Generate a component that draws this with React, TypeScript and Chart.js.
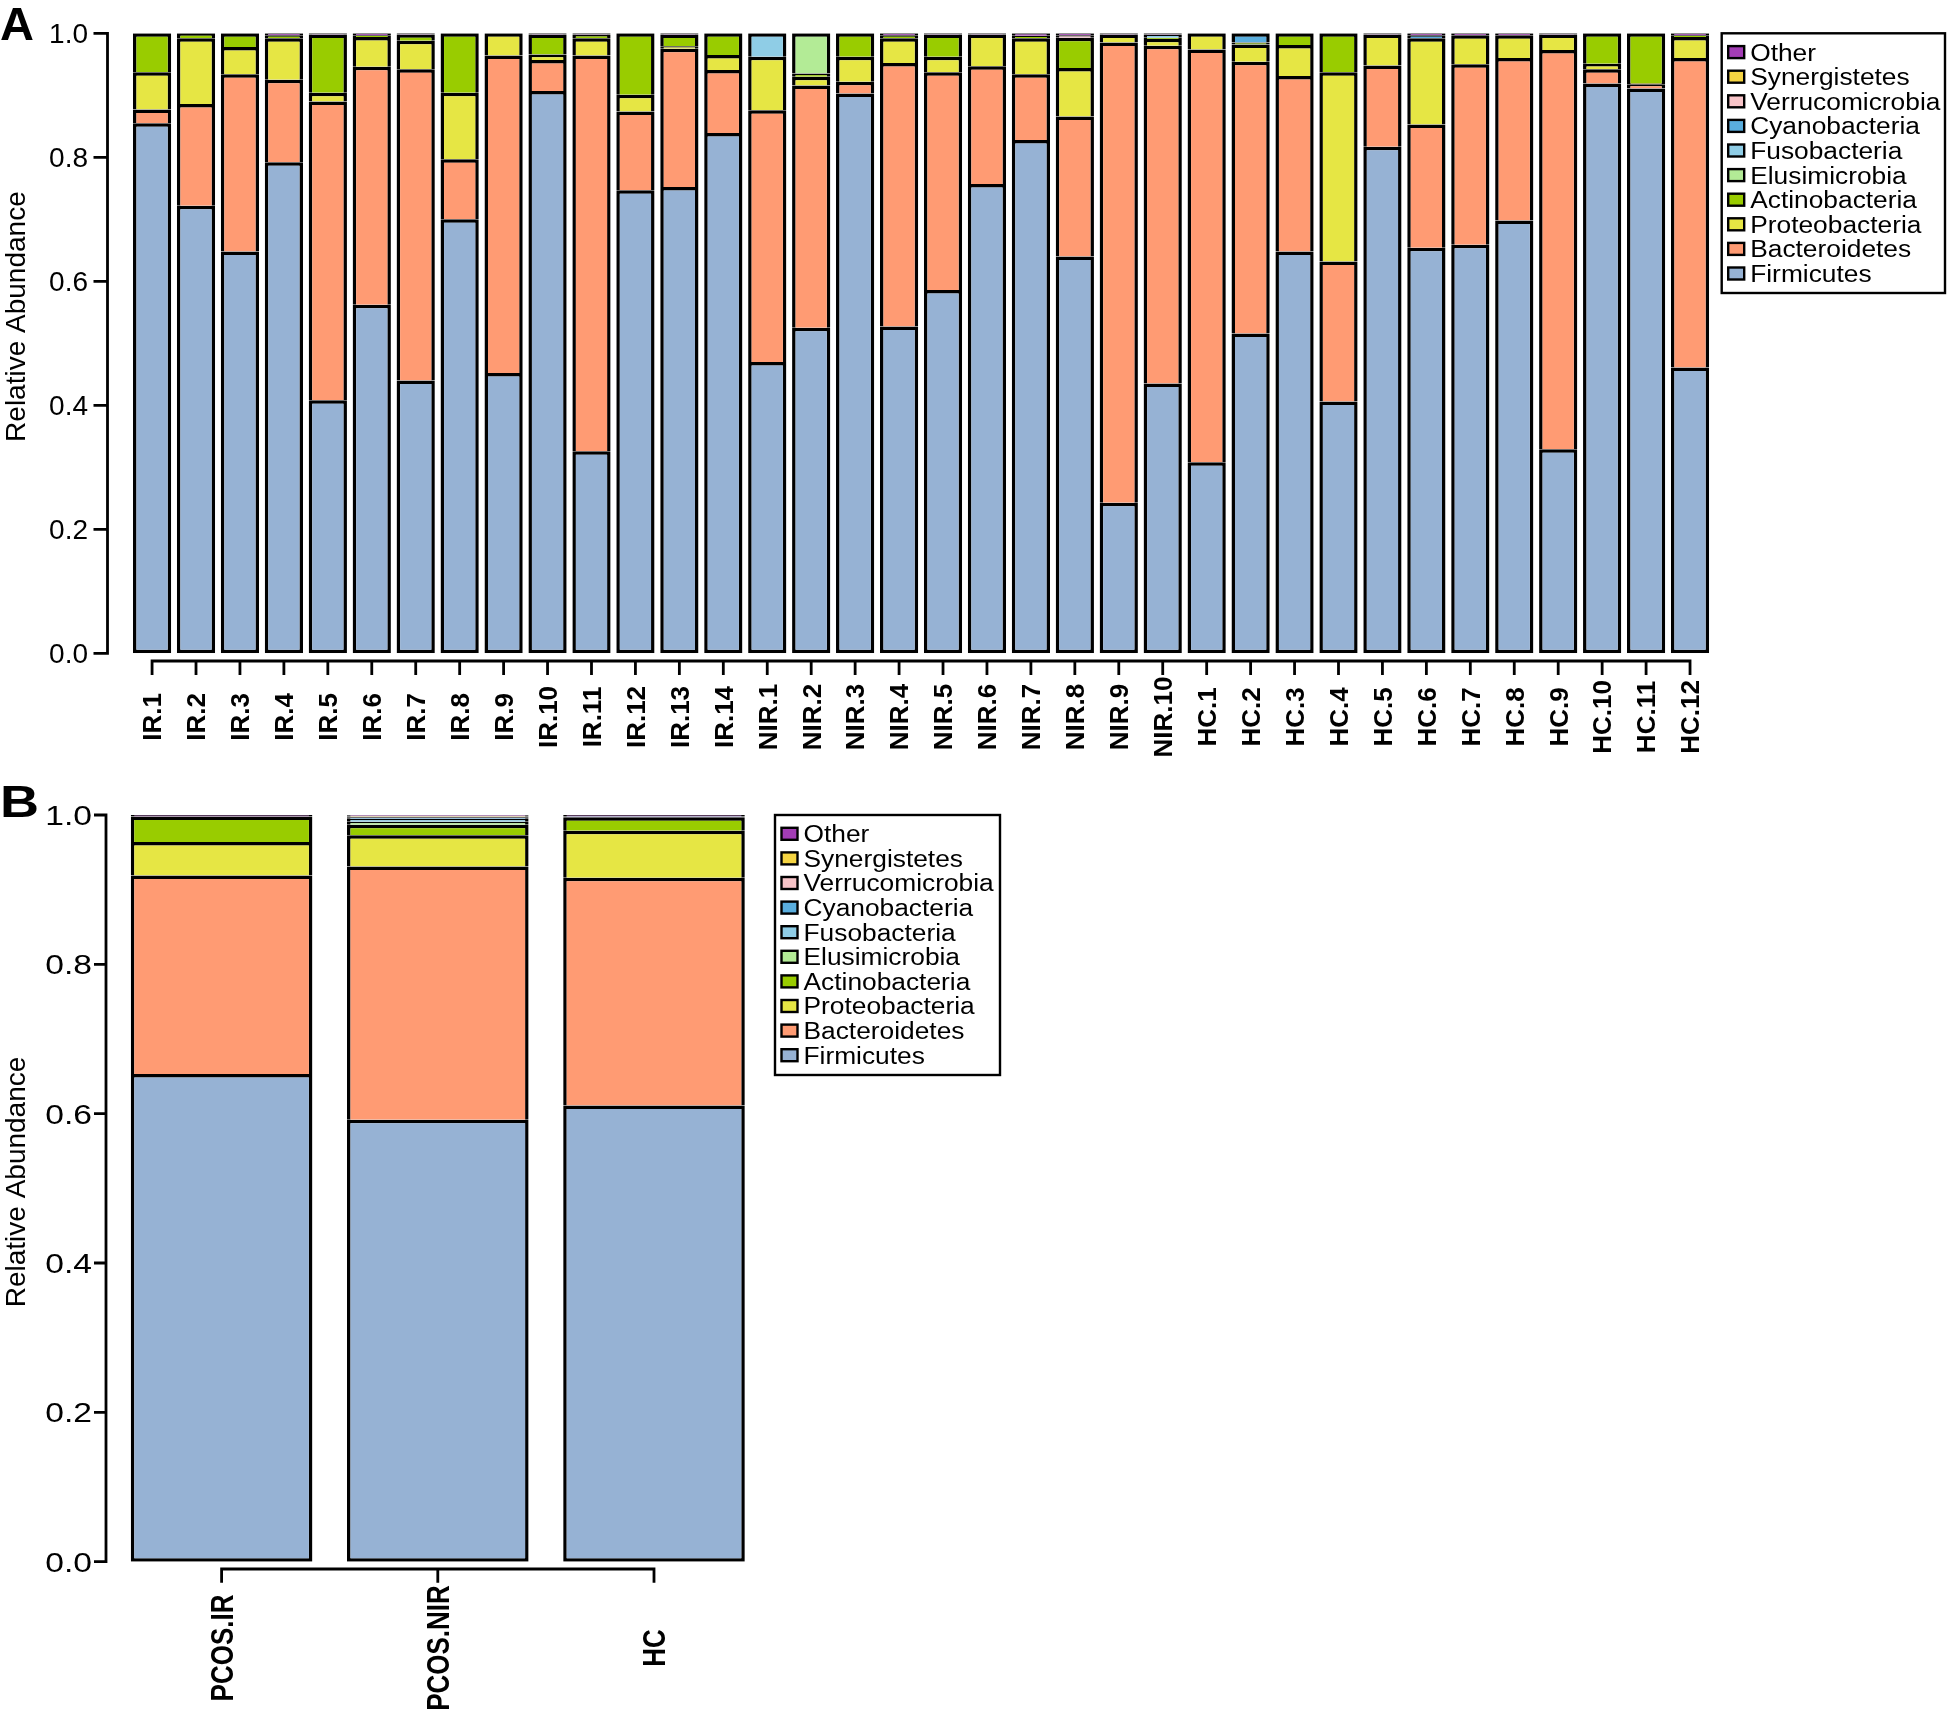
import React, { useEffect, useRef } from "react";
import { Chart, registerables } from "chart.js";

Chart.register(...registerables);

// ---------------- data ----------------
const PHYLA = [
  "Firmicutes",
  "Bacteroidetes",
  "Proteobacteria",
  "Actinobacteria",
  "Elusimicrobia",
  "Fusobacteria",
  "Cyanobacteria",
  "Verrucomicrobia",
  "Synergistetes",
  "Other",
];
const PHYLUM_COLORS = [
  "#96B2D4",
  "#FF9B73",
  "#E6E644",
  "#99CC00",
  "#B3EB96",
  "#8FCDE6",
  "#5AAEDE",
  "#F8C4C8",
  "#F5D442",
  "#A33DB5",
];

const Y_TICKS = [0, 0.2, 0.4, 0.6, 0.8, 1.0];
const Y_TITLE = "Relative Abundance";

// Panel A: individual samples
const SAMPLES = [
  "IR.1", "IR.2", "IR.3", "IR.4", "IR.5", "IR.6", "IR.7", "IR.8", "IR.9", "IR.10", "IR.11", "IR.12", "IR.13", "IR.14",
  "NIR.1", "NIR.2", "NIR.3", "NIR.4", "NIR.5", "NIR.6", "NIR.7", "NIR.8", "NIR.9", "NIR.10",
  "HC.1", "HC.2", "HC.3", "HC.4", "HC.5", "HC.6", "HC.7", "HC.8", "HC.9", "HC.10", "HC.11", "HC.12",
];
const A_FIRMICUTES = [
  0.855, 0.722, 0.648, 0.792, 0.408, 0.562, 0.440, 0.700, 0.452, 0.907, 0.326, 0.747, 0.752, 0.839,
  0.470, 0.525, 0.903, 0.527, 0.586, 0.757, 0.828, 0.640, 0.243, 0.435,
  0.308, 0.516, 0.648, 0.406, 0.817, 0.654, 0.659, 0.698, 0.329, 0.919, 0.911, 0.461,
];
const A_BACTEROIDETES = [
  0.022, 0.164, 0.286, 0.133, 0.482, 0.384, 0.502, 0.097, 0.512, 0.050, 0.638, 0.127, 0.223, 0.102,
  0.406, 0.391, 0.019, 0.425, 0.351, 0.190, 0.106, 0.226, 0.742, 0.545,
  0.666, 0.438, 0.283, 0.226, 0.131, 0.199, 0.291, 0.262, 0.644, 0.023, 0.007, 0.499,
];
const A_PROTEOBACTERIA = [
  0.060, 0.106, 0.044, 0.067, 0.014, 0.048, 0.046, 0.107, 0.036, 0.009, 0.028, 0.027, 0.004, 0.024,
  0.086, 0.014, 0.040, 0.040, 0.025, 0.051, 0.058, 0.078, 0.013, 0.011,
  0.026, 0.028, 0.050, 0.305, 0.050, 0.139, 0.047, 0.037, 0.025, 0.009, 0.002, 0.034,
];
const A_ACTINOBACTERIA = [
  0.063, 0.008, 0.022, 0.005, 0.094, 0.003, 0.010, 0.096, 0, 0.032, 0.006, 0.099, 0.019, 0.035,
  0, 0.005, 0.038, 0.005, 0.036, 0, 0.004, 0.049, 0, 0.002,
  0, 0.003, 0.019, 0.063, 0, 0, 0, 0, 0, 0.049, 0.080, 0.003,
];
const A_ELUSIMICROBIA = [
  0, 0, 0, 0, 0, 0, 0, 0, 0, 0, 0, 0, 0, 0,
  0, 0.065, 0, 0, 0, 0, 0, 0, 0, 0,
  0, 0, 0, 0, 0, 0, 0, 0, 0, 0, 0, 0,
];
const A_FUSOBACTERIA = [
  0, 0, 0, 0, 0, 0, 0, 0, 0, 0, 0, 0, 0, 0,
  0.038, 0, 0, 0, 0, 0, 0, 0, 0, 0.005,
  0, 0, 0, 0, 0, 0, 0, 0, 0, 0, 0, 0,
];
const A_CYANOBACTERIA = [
  0, 0, 0, 0, 0, 0, 0, 0, 0, 0, 0, 0, 0, 0,
  0, 0, 0, 0, 0, 0, 0, 0, 0, 0,
  0, 0.015, 0, 0, 0, 0.005, 0, 0, 0, 0, 0, 0,
];
const A_VERRUCOMICROBIA = [
  0, 0, 0, 0, 0, 0, 0, 0, 0, 0, 0, 0, 0, 0,
  0, 0, 0, 0, 0, 0, 0, 0.004, 0, 0,
  0, 0, 0, 0, 0, 0, 0, 0, 0, 0, 0, 0,
];
const A_SYNERGISTETES = [
  0, 0, 0, 0, 0, 0, 0, 0, 0, 0, 0, 0, 0, 0,
  0, 0, 0, 0, 0, 0, 0, 0, 0, 0,
  0, 0, 0, 0, 0, 0, 0, 0, 0, 0, 0, 0,
];
const A_OTHER = [
  0, 0, 0, 0.003, 0.002, 0.003, 0.002, 0, 0, 0.002, 0.002, 0, 0.002, 0,
  0, 0, 0, 0.003, 0.002, 0.002, 0.004, 0.003, 0.002, 0.002,
  0, 0, 0, 0, 0.002, 0.003, 0.003, 0.003, 0.002, 0, 0, 0.003,
];

// Panel B: group means
const GROUPS = ["PCOS.IR", "PCOS.NIR", "HC"];
const B_FIRMICUTES = [0.653, 0.592, 0.611];
const B_BACTEROIDETES = [0.266, 0.339, 0.305];
const B_PROTEOBACTERIA = [0.045, 0.042, 0.063];
const B_ACTINOBACTERIA = [0.034, 0.014, 0.018];
const B_ELUSIMICROBIA = [0, 0.004, 0];
const B_FUSOBACTERIA = [0, 0.004, 0];
const B_CYANOBACTERIA = [0, 0.002, 0.001];
const B_VERRUCOMICROBIA = [0, 0.001, 0];
const B_SYNERGISTETES = [0, 0.001, 0];
const B_OTHER = [0.002, 0.001, 0.002];

const A_SERIES = [
  A_FIRMICUTES, A_BACTEROIDETES, A_PROTEOBACTERIA, A_ACTINOBACTERIA, A_ELUSIMICROBIA,
  A_FUSOBACTERIA, A_CYANOBACTERIA, A_VERRUCOMICROBIA, A_SYNERGISTETES, A_OTHER,
];
const B_SERIES = [
  B_FIRMICUTES, B_BACTEROIDETES, B_PROTEOBACTERIA, B_ACTINOBACTERIA, B_ELUSIMICROBIA,
  B_FUSOBACTERIA, B_CYANOBACTERIA, B_VERRUCOMICROBIA, B_SYNERGISTETES, B_OTHER,
];

// ---------------- layout ----------------
const FONT = '"Liberation Sans", Arial, Helvetica, sans-serif';
const CAP = 0.716;

type PanelCfg = {
  top: number;
  height: number;
  labels: string[];
  series: number[][];
  padding: { left: number; right: number; top: number; bottom: number };
  barPct: number;
  yAxisX: number;
  tickLeft: number;
  tickLabelRight: number;
  tickFont: number;
  tickSx: number;
  xAxisY: number;
  xTickBottom: number;
  xLabelY: number;
  xLabelFont: number;
  xLabelSx: number;
  titleX: number;
  titleY: number;
  letter: string;
  letterY: number;
  letterFont: number;
  letterSx: number;
  legendBox: { left: number; top: number; right: number; bottom: number };
};

const PANEL_A: PanelCfg = {
  top: 0,
  height: 780,
  labels: SAMPLES,
  series: A_SERIES,
  padding: { left: 130.1, right: 235, top: 33.3, bottom: 126.7 },
  barPct: 0.87,
  yAxisX: 107.5,
  tickLeft: 93.5,
  tickLabelRight: 88,
  tickFont: 28,
  tickSx: 1,
  xAxisY: 661,
  xTickBottom: 675,
  xLabelY: 717,
  xLabelFont: 26,
  xLabelSx: 1,
  titleX: 25,
  titleY: 316.6,
  letter: "A",
  letterY: 40,
  letterFont: 47,
  letterSx: 1,
  legendBox: { left: 1721.7, top: 33.3, right: 1945, bottom: 293 },
};

const PANEL_B: PanelCfg = {
  top: 780,
  height: 935,
  labels: GROUPS,
  series: B_SERIES,
  padding: { left: 113.5, right: 1184.9, top: 35, bottom: 153.3 },
  barPct: 0.84,
  yAxisX: 106,
  tickLeft: 94,
  tickLabelRight: 92,
  tickFont: 28,
  tickSx: 1.2,
  xAxisY: 789,
  xTickBottom: 802.7,
  xLabelY: 868,
  xLabelFont: 26,
  xLabelSx: 1.2,
  titleX: 25,
  titleY: 402,
  letter: "B",
  letterY: 37,
  letterFont: 45,
  letterSx: 1.2,
  legendBox: { left: 775, top: 35, right: 1000, bottom: 295 },
};

function decorations(cfg: PanelCfg) {
  return {
    id: "decor",
    afterDraw(chart: any) {
      const ctx: CanvasRenderingContext2D = chart.ctx;
      const xs = chart.scales.x;
      const ys = chart.scales.y;
      ctx.save();
      ctx.strokeStyle = "#000";
      ctx.fillStyle = "#000";
      ctx.lineWidth = 2.8;
      ctx.lineCap = "butt";

      // y axis + ticks
      const y0 = ys.getPixelForValue(Y_TICKS[0]);
      const y1 = ys.getPixelForValue(Y_TICKS[Y_TICKS.length - 1]);
      ctx.beginPath();
      ctx.moveTo(cfg.yAxisX, y0 + 1.4);
      ctx.lineTo(cfg.yAxisX, y1 - 1.4);
      Y_TICKS.forEach((v) => {
        const y = ys.getPixelForValue(v);
        ctx.moveTo(cfg.tickLeft, y);
        ctx.lineTo(cfg.yAxisX, y);
      });
      ctx.stroke();

      ctx.font = `${cfg.tickFont}px ${FONT}`;
      ctx.textAlign = "right";
      ctx.textBaseline = "alphabetic";
      Y_TICKS.forEach((v) => {
        const y = ys.getPixelForValue(v);
        ctx.save();
        ctx.translate(cfg.tickLabelRight, y);
        ctx.scale(cfg.tickSx, 1);
        ctx.fillText(v.toFixed(1), 0, (cfg.tickFont * CAP) / 2);
        ctx.restore();
      });

      // x axis bracket + ticks
      const n = cfg.labels.length;
      const xFirst = xs.getPixelForValue(0);
      const xLast = xs.getPixelForValue(n - 1);
      ctx.beginPath();
      ctx.moveTo(xFirst - 1.4, cfg.xAxisY);
      ctx.lineTo(xLast + 1.4, cfg.xAxisY);
      for (let i = 0; i < n; i++) {
        const x = xs.getPixelForValue(i);
        ctx.moveTo(x, cfg.xAxisY);
        ctx.lineTo(x, cfg.xTickBottom);
      }
      ctx.stroke();

      // x labels (rotated, bold, centred)
      ctx.font = `bold ${cfg.xLabelFont}px ${FONT}`;
      ctx.textAlign = "center";
      for (let i = 0; i < n; i++) {
        const x = xs.getPixelForValue(i);
        ctx.save();
        ctx.translate(x, cfg.xLabelY);
        ctx.scale(cfg.xLabelSx, 1);
        ctx.rotate(-Math.PI / 2);
        ctx.fillText(cfg.labels[i], 0, (cfg.xLabelFont * CAP) / 2);
        ctx.restore();
      }

      // y title
      ctx.font = `28px ${FONT}`;
      ctx.save();
      ctx.translate(cfg.titleX, cfg.titleY);
      ctx.rotate(-Math.PI / 2);
      ctx.textAlign = "center";
      ctx.fillText(Y_TITLE, 0, 0);
      ctx.restore();

      // panel letter
      ctx.save();
      ctx.font = `bold ${cfg.letterFont}px ${FONT}`;
      ctx.textAlign = "left";
      ctx.translate(0, cfg.letterY);
      ctx.scale(cfg.letterSx, 1);
      ctx.fillText(cfg.letter, 0, 0);
      ctx.restore();

      // legend
      const lb = cfg.legendBox;
      ctx.lineWidth = 2.4;
      ctx.strokeRect(lb.left, lb.top, lb.right - lb.left, lb.bottom - lb.top);
      const ds = chart.data.datasets;
      const pitch = 24.6;
      const legFont = 23.5;
      for (let j = 0; j < ds.length; j++) {
        const d = ds[ds.length - 1 - j];
        const cy = lb.top + 18.8 + j * pitch;
        const sx = lb.left + 6.5;
        ctx.fillStyle = d.backgroundColor;
        ctx.fillRect(sx, cy - 6, 16, 12);
        ctx.strokeStyle = "#000";
        ctx.lineWidth = 2.4;
        ctx.strokeRect(sx, cy - 6, 16, 12);
        ctx.fillStyle = "#000";
        ctx.save();
        ctx.font = `${legFont}px ${FONT}`;
        ctx.textAlign = "left";
        ctx.translate(lb.left + 28.5, cy);
        ctx.scale(1.12, 1);
        ctx.fillText(d.label, 0, (legFont * CAP) / 2);
        ctx.restore();
      }
      ctx.restore();
    },
  };
}

function Panel({ cfg }: { cfg: PanelCfg }) {
  const ref = useRef<HTMLCanvasElement>(null);
  useEffect(() => {
    const canvas = ref.current;
    if (!canvas) return;
    const chart = new Chart(canvas, {
      type: "bar",
      data: {
        labels: cfg.labels,
        datasets: PHYLA.map((name, k) => ({
          label: name,
          data: cfg.series[k],
          backgroundColor: PHYLUM_COLORS[k],
          borderColor: "#000000",
          borderWidth: 3.5,
          borderSkipped: k === 0 ? false : "start",
          barPercentage: cfg.barPct,
          categoryPercentage: 1,
        })),
      },
      options: {
        responsive: false,
        animation: false,
        devicePixelRatio: 1,
        events: [],
        layout: { padding: cfg.padding },
        scales: {
          x: { stacked: true, display: false },
          y: { stacked: true, display: false, min: 0, max: 1 },
        },
        plugins: {
          legend: { display: false },
          tooltip: { enabled: false },
        },
      },
      plugins: [decorations(cfg)],
    } as any);
    return () => chart.destroy();
  }, [cfg]);
  return (
    <canvas
      ref={ref}
      width={1947}
      height={cfg.height}
      style={{ position: "absolute", left: 0, top: cfg.top, width: 1947, height: cfg.height }}
    />
  );
}

export default function App() {
  return (
    <div
      style={{
        position: "absolute",
        left: 0,
        top: 0,
        width: 1947,
        height: 1715,
        background: "#fff",
        overflow: "hidden",
      }}
    >
      <Panel cfg={PANEL_A} />
      <Panel cfg={PANEL_B} />
    </div>
  );
}
